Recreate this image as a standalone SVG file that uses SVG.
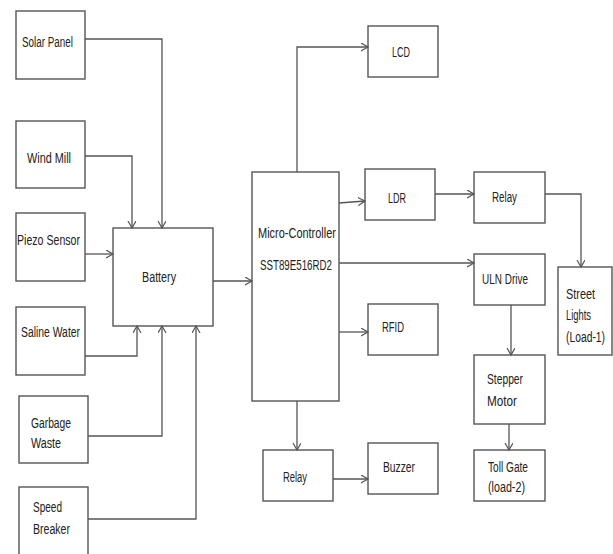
<svg xmlns="http://www.w3.org/2000/svg" width="613" height="554" viewBox="0 0 613 554">
<style>
.box{fill:#fff;stroke:#555;stroke-width:1.4}
.lbl{font-family:"Liberation Sans",Arial,sans-serif;font-size:14px;fill:#222}
.conn path{fill:none;stroke:#555;stroke-width:1.3;marker-end:url(#arr)}
</style>
<defs>
<marker id="arr" markerUnits="userSpaceOnUse" markerWidth="10" markerHeight="10" refX="7" refY="4" orient="auto">
<path d="M0,0 L7,4 L0,8" fill="none" stroke="#555" stroke-width="1.2"/>
</marker>
</defs>
<rect width="613" height="554" fill="#fff"/>
<g id="solar"><rect class="box" x="16" y="11" width="69" height="68"/><text class="lbl" x="22" y="47" textLength="51" lengthAdjust="spacingAndGlyphs">Solar Panel</text></g>
<g id="wind"><rect class="box" x="16" y="121" width="69" height="67"/><text class="lbl" x="27" y="163" textLength="44" lengthAdjust="spacingAndGlyphs">Wind Mill</text></g>
<g id="piezo"><rect class="box" x="16" y="213" width="69" height="68"/><text class="lbl" x="17" y="245" textLength="63" lengthAdjust="spacingAndGlyphs">Piezo Sensor</text></g>
<g id="saline"><rect class="box" x="16" y="307" width="69" height="68"/><text class="lbl" x="21" y="337" textLength="59" lengthAdjust="spacingAndGlyphs">Saline Water</text></g>
<g id="garbage"><rect class="box" x="19" y="396" width="69" height="67"/><text class="lbl" x="31" y="428" textLength="40" lengthAdjust="spacingAndGlyphs">Garbage</text><text class="lbl" x="31" y="448" textLength="30" lengthAdjust="spacingAndGlyphs">Waste</text></g>
<g id="speed"><rect class="box" x="19" y="487" width="69" height="80"/><text class="lbl" x="33" y="512" textLength="29" lengthAdjust="spacingAndGlyphs">Speed</text><text class="lbl" x="33" y="534" textLength="37" lengthAdjust="spacingAndGlyphs">Breaker</text></g>
<g id="battery"><rect class="box" x="113" y="228" width="100" height="98"/><text class="lbl" x="142" y="282" textLength="34" lengthAdjust="spacingAndGlyphs">Battery</text></g>
<g id="mc"><rect class="box" x="252" y="172" width="87" height="229"/><text class="lbl" x="258" y="238" textLength="78" lengthAdjust="spacingAndGlyphs">Micro-Controller</text><text class="lbl" x="260" y="270" textLength="72" lengthAdjust="spacingAndGlyphs">SST89E516RD2</text></g>
<g id="lcd"><rect class="box" x="368" y="26" width="70" height="51"/><text class="lbl" x="392" y="57" textLength="18" lengthAdjust="spacingAndGlyphs">LCD</text></g>
<g id="ldr"><rect class="box" x="365" y="169" width="70" height="51"/><text class="lbl" x="388" y="203" textLength="18" lengthAdjust="spacingAndGlyphs">LDR</text></g>
<g id="rfid"><rect class="box" x="368" y="304" width="70" height="51"/><text class="lbl" x="382" y="332" textLength="22" lengthAdjust="spacingAndGlyphs">RFID</text></g>
<g id="relay2"><rect class="box" x="263" y="450" width="70" height="51"/><text class="lbl" x="283" y="482" textLength="24" lengthAdjust="spacingAndGlyphs">Relay</text></g>
<g id="buzzer"><rect class="box" x="368" y="443" width="70" height="51"/><text class="lbl" x="383" y="472" textLength="32" lengthAdjust="spacingAndGlyphs">Buzzer</text></g>
<g id="relay1"><rect class="box" x="474" y="172" width="71" height="51"/><text class="lbl" x="492" y="202" textLength="25" lengthAdjust="spacingAndGlyphs">Relay</text></g>
<g id="uln"><rect class="box" x="474" y="254" width="71" height="51"/><text class="lbl" x="482" y="284" textLength="46" lengthAdjust="spacingAndGlyphs">ULN Drive</text></g>
<g id="street"><rect class="box" x="558" y="267" width="54" height="88"/><text class="lbl" x="566" y="299" textLength="29" lengthAdjust="spacingAndGlyphs">Street</text><text class="lbl" x="566" y="320" textLength="25" lengthAdjust="spacingAndGlyphs">Lights</text><text class="lbl" x="566" y="342" textLength="39" lengthAdjust="spacingAndGlyphs">(Load-1)</text></g>
<g id="stepper"><rect class="box" x="474" y="355" width="71" height="69"/><text class="lbl" x="487" y="384" textLength="36" lengthAdjust="spacingAndGlyphs">Stepper</text><text class="lbl" x="487" y="406" textLength="30" lengthAdjust="spacingAndGlyphs">Motor</text></g>
<g id="toll"><rect class="box" x="474" y="450" width="71" height="51"/><text class="lbl" x="488" y="472" textLength="40" lengthAdjust="spacingAndGlyphs">Toll Gate</text><text class="lbl" x="488" y="492" textLength="37" lengthAdjust="spacingAndGlyphs">(load-2)</text></g>
<g id="connectors" class="conn">
<path d="M85,39 H162 V228"/>
<path d="M85,156 H132 V228"/>
<path d="M85,254 H113"/>
<path d="M85,356 H137 V326"/>
<path d="M88,436 H162 V326"/>
<path d="M88,519 H196 V326"/>
<path d="M213,281 H252"/>
<path d="M297,172 V47 H368"/>
<path d="M339,203 L365,201"/>
<path d="M339,263 H474"/>
<path d="M339,332 H368"/>
<path d="M297,401 V450"/>
<path d="M333,479 H368"/>
<path d="M435,194 H474"/>
<path d="M545,194 H581 V267"/>
<path d="M511,305 V355"/>
<path d="M509,424 V450"/>
</g>
</svg>
